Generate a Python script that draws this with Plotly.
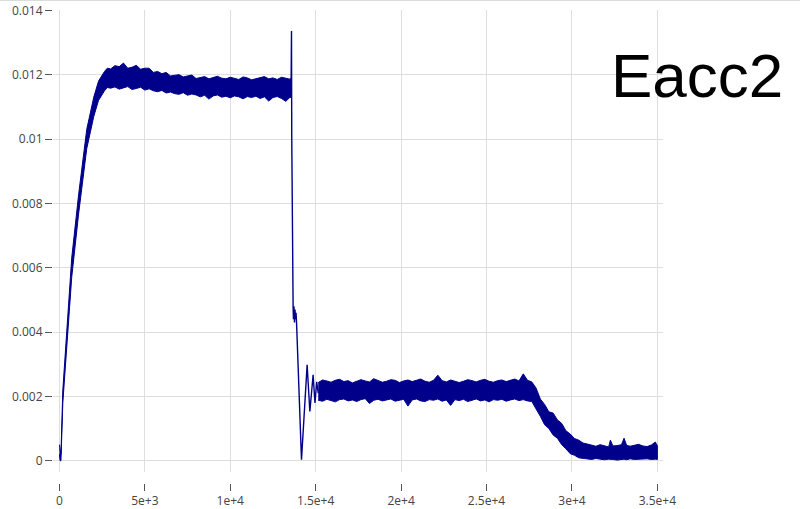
import plotly.graph_objects as go

COLOR = "#00008b"

# ---- data ----
# Segment A: start-up rise and first plateau (upper / lower edge of the noise band)
a_x = [0, 40, 90, 200, 470, 720, 1130, 1600, 2010, 2290, 2640, 2800,
       3000, 3250, 3500, 3750, 4000, 4250, 4500, 4750, 5000, 5250, 5500, 5750,
       6000, 6250, 6500, 6750, 7000, 7250, 7500, 7750, 8000, 8250, 8500, 8750,
       9000, 9250, 9500, 9750, 10000, 10250, 10500, 10750, 11000, 11250, 11500,
       11750, 12000, 12250, 12500, 12750, 13000, 13250, 13500, 13560]
a_hi = [0.0005, 0.0003, 0.0002, 0.0022, 0.0042, 0.0063, 0.0083, 0.0103, 0.0113, 0.0118, 0.0121, 0.0122,
        0.01218, 0.01228, 0.01225, 0.01236, 0.01220, 0.01223, 0.01229, 0.01217, 0.01220, 0.01220, 0.01207, 0.01210,
        0.01203, 0.01207, 0.01196, 0.01199, 0.01200, 0.01193, 0.01196, 0.01199, 0.01188, 0.01191, 0.01194, 0.01187,
        0.01191, 0.01195, 0.01189, 0.01187, 0.01192, 0.01189, 0.01185, 0.01193, 0.01190, 0.01184, 0.01188,
        0.01191, 0.01194, 0.01187, 0.01190, 0.01185, 0.01192, 0.01189, 0.01186, 0.01188]
a_lo = [0.0002, 0.0000, 0.0000, 0.0018, 0.0038, 0.0057, 0.0077, 0.0097, 0.0107, 0.0112, 0.0115, 0.0116,
        0.01158, 0.01162, 0.01155, 0.01159, 0.01163, 0.01154, 0.01157, 0.01161, 0.01152, 0.01156, 0.01150, 0.01147,
        0.01151, 0.01143, 0.01146, 0.01141, 0.01139, 0.01144, 0.01136, 0.01140, 0.01137, 0.01131, 0.01136, 0.01124,
        0.01134, 0.01137, 0.01130, 0.01133, 0.01128, 0.01134, 0.01131, 0.01125, 0.01132, 0.01129, 0.01133,
        0.01126, 0.01131, 0.01118, 0.01129, 0.01132, 0.01126, 0.01117, 0.01130, 0.01128]

# Segment B: spike, fall and ringing
b_x = [13560, 13585, 13600, 13640, 13680, 13700, 13730, 13760, 13790, 13820, 13850, 13880,
       14170, 14500, 14660, 14850, 14960, 15060, 15150]
b_y = [0.01160, 0.01336, 0.01000, 0.00520, 0.00475, 0.00440, 0.00480, 0.00430, 0.00470, 0.00440, 0.00460, 0.00430,
       0.00003, 0.00298, 0.00153, 0.00267, 0.00180, 0.00245, 0.00210]

# Segment C: second plateau, decay and final plateau
c_x = [15150, 15400, 15650, 15900, 16150, 16400, 16650, 16900, 17150, 17400, 17650, 17900,
       18150, 18400, 18650, 18900, 19150, 19400, 19650, 19900, 20150, 20400, 20650, 20900,
       21150, 21400, 21650, 21900, 22150, 22400, 22650, 22900, 23150, 23400, 23650, 23900,
       24150, 24400, 24650, 24900, 25150, 25400, 25650, 25900, 26150, 26400, 26650, 26900,
       27150, 27400, 27650,
       27900, 28150, 28400, 28650, 28900, 29150, 29400, 29650, 29900, 30150, 30400, 30650,
       30900, 31150, 31400, 31650, 31900, 32150, 32250, 32400, 32650, 32900, 33050, 33200,
       33400, 33650, 33900, 34150, 34400, 34650, 34880, 35000]
c_hi = [0.00243, 0.00251, 0.00248, 0.00244, 0.00250, 0.00253, 0.00246, 0.00249, 0.00242, 0.00247, 0.00252, 0.00248,
        0.00245, 0.00255, 0.00249, 0.00244, 0.00247, 0.00252, 0.00250, 0.00243, 0.00248, 0.00251, 0.00246, 0.00250,
        0.00254, 0.00247, 0.00244, 0.00250, 0.00266, 0.00249, 0.00245, 0.00251, 0.00248, 0.00243, 0.00247, 0.00252,
        0.00249, 0.00245, 0.00250, 0.00253, 0.00247, 0.00244, 0.00249, 0.00251, 0.00246, 0.00250, 0.00254, 0.00248,
        0.00270, 0.00250, 0.00245,
        0.00226, 0.00192, 0.00175, 0.00152, 0.00148, 0.00127, 0.00116, 0.00093, 0.00083, 0.00069, 0.00064, 0.00055,
        0.00052, 0.00048, 0.00045, 0.00050, 0.00047, 0.00043, 0.00064, 0.00046, 0.00047, 0.00050, 0.00070, 0.00048,
        0.00045, 0.00048, 0.00051, 0.00046, 0.00044, 0.00049, 0.00058, 0.00047]
c_lo = [0.00188, 0.00185, 0.00191, 0.00187, 0.00183, 0.00190, 0.00192, 0.00186, 0.00189, 0.00184, 0.00190, 0.00193,
        0.00178, 0.00188, 0.00191, 0.00186, 0.00189, 0.00192, 0.00185, 0.00188, 0.00191, 0.00170, 0.00189, 0.00192,
        0.00186, 0.00184, 0.00190, 0.00188, 0.00192, 0.00185, 0.00189, 0.00172, 0.00190, 0.00187, 0.00191, 0.00184,
        0.00189, 0.00192, 0.00186, 0.00189, 0.00183, 0.00190, 0.00188, 0.00191, 0.00185, 0.00189, 0.00192, 0.00187,
        0.00190, 0.00186, 0.00184,
        0.00163, 0.00138, 0.00112, 0.00100, 0.00080, 0.00070, 0.00050, 0.00037, 0.00022, 0.00017, 0.00009, 0.00008,
        0.00006, 0.00004, 0.00007, 0.00005, 0.00003, 0.00005, 0.00006, 0.00004, 0.00002, 0.00004, 0.00005, 0.00003,
        0.00006, 0.00004, 0.00003, 0.00005, 0.00006, 0.00004, 0.00005, 0.00004]

x_tickvals = [0, 5000, 10000, 15000, 20000, 25000, 30000, 35000]
x_ticktext = ["0", "5e+3", "1e+4", "1.5e+4", "2e+4", "2.5e+4", "3e+4", "3.5e+4"]
y_tickvals = [0, 0.002, 0.004, 0.006, 0.008, 0.010, 0.012, 0.014]
y_ticktext = ["0", "0.002", "0.004", "0.006", "0.008", "0.01", "0.012", "0.014"]
title_text = "Eacc2"

# ---- figure ----
fig = go.Figure()


def band(xs, hi, lo):
    return go.Scatter(
        x=xs + xs[::-1], y=hi + lo[::-1], mode="lines", fill="toself",
        fillcolor=COLOR, line=dict(color=COLOR, width=1), hoverinfo="skip",
        showlegend=False)


fig.add_trace(band(a_x, a_hi, a_lo))
fig.add_trace(go.Scatter(x=b_x, y=b_y, mode="lines",
                         line=dict(color=COLOR, width=1.4), showlegend=False))
fig.add_trace(band(c_x, c_hi, c_lo))

W, H = 800, 509
ml, mr, mt, mb = 53, 137, 10, 26
plot_h = H - mt - mb
plot_w = W - ml - mr
plot_bottom_px = 472
y_dom0 = (H - mb - plot_bottom_px) / plot_h

axis_common = dict(
    showgrid=True, gridcolor="#dedede", gridwidth=1, zeroline=False,
    showline=False, ticks="outside", ticklen=7, tickcolor="#555", tickwidth=1,
    tickfont=dict(family="Open Sans, sans-serif", size=12, color="#444"),
)

fig.update_layout(
    width=W, height=H,
    margin=dict(l=ml, r=mr, t=mt, b=mb, pad=0, autoexpand=False),
    paper_bgcolor="white", plot_bgcolor="white",
    showlegend=False,
    xaxis=dict(range=[-375, 35330], tickvals=x_tickvals, ticktext=x_ticktext,
               anchor="free", position=0, automargin=False, **axis_common),
    yaxis=dict(range=[-0.00035, 0.01401], domain=[y_dom0, 1], automargin=False,
               tickvals=y_tickvals, ticktext=y_ticktext, **axis_common),
    annotations=[dict(
        text=title_text, xref="paper", yref="paper",
        x=(785 - ml) / plot_w, y=(H - mb - 75) / plot_h,
        xanchor="right", yanchor="middle", showarrow=False,
        font=dict(family="Liberation Sans, Arial, sans-serif", size=62, color="black"))],
    shapes=[dict(type="line", xref="paper", yref="paper",
                 x0=-ml / plot_w, x1=(W - ml) / plot_w,
                 y0=(H - mb - 0.5) / plot_h, y1=(H - mb - 0.5) / plot_h,
                 line=dict(color="#dcdcdc", width=1))],
)

# place the figure at the window's top-left corner (no default page margin)
fig.write_html("out.html",
               config={"displayModeBar": False},
               post_script="document.body.style.margin='0';document.body.style.overflow='hidden';")
